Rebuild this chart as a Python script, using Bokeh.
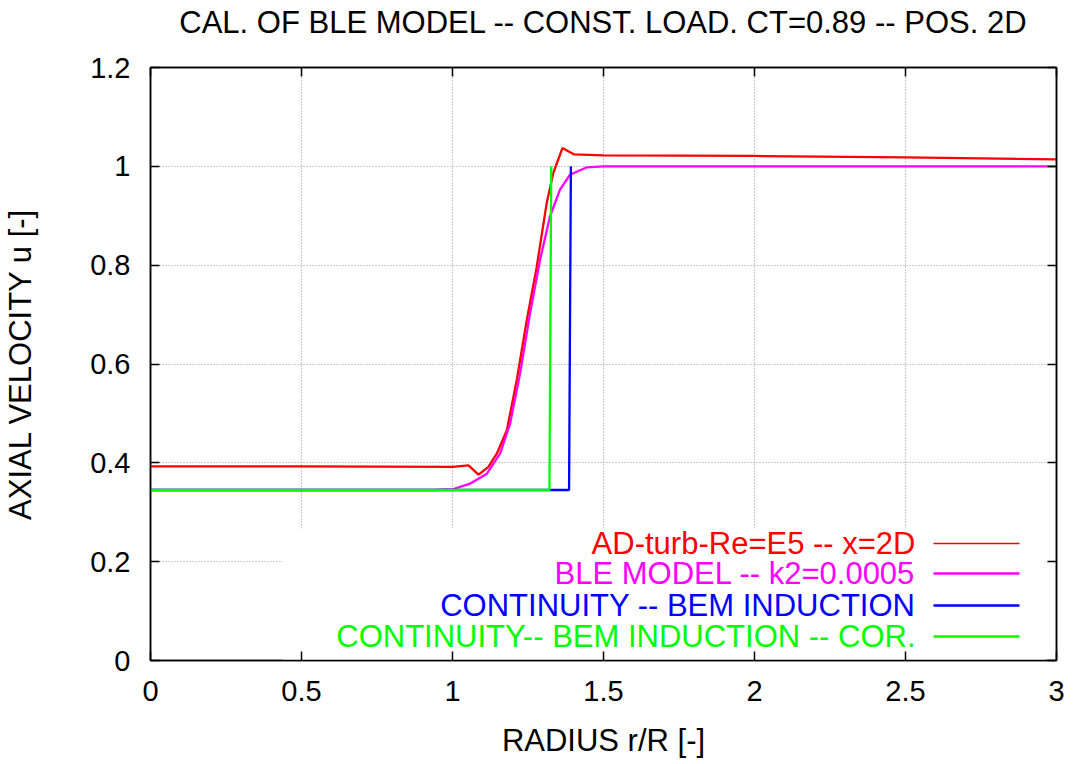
from bokeh.plotting import figure
from bokeh.models import Range1d, LinearAxis, Label, BoxAnnotation, Arrow, FixedTicker
from bokeh.embed import file_html
from bokeh.resources import INLINE

title_text = "CAL. OF BLE MODEL -- CONST. LOAD. CT=0.89 -- POS. 2D"
x_label = "RADIUS r/R [-]"
y_label = "AXIAL VELOCITY u [-]"

x_ticks = [0, 0.5, 1, 1.5, 2, 2.5, 3]
x_tick_labels = ["0", "0.5", "1", "1.5", "2", "2.5", "3"]
y_ticks = [0, 0.2, 0.4, 0.6, 0.8, 1.0, 1.2]
y_tick_labels = ["0", "0.2", "0.4", "0.6", "0.8", "1", "1.2"]

# AD-turb-Re=E5 -- x=2D
red_x = [0, 0.5, 1.0, 1.053, 1.086, 1.119, 1.147, 1.180, 1.213, 1.246, 1.279, 1.312, 1.334, 1.364, 1.403, 1.5, 2.0, 2.5, 3.0]
red_y = [0.393, 0.393, 0.392, 0.395, 0.376, 0.392, 0.419, 0.466, 0.568, 0.689, 0.797, 0.926, 0.987, 1.037, 1.024, 1.022, 1.021, 1.018, 1.014]

# BLE MODEL -- k2=0.0005
mag_x = [0, 0.936, 1.003, 1.059, 1.114, 1.158, 1.191, 1.224, 1.257, 1.290, 1.323, 1.356, 1.389, 1.445, 1.5, 3.0]
mag_y = [0.345, 0.345, 0.347, 0.358, 0.378, 0.419, 0.480, 0.581, 0.703, 0.811, 0.899, 0.953, 0.983, 0.998, 1.0, 1.0]

# CONTINUITY -- BEM INDUCTION
blue_x = [0, 1.386, 1.392]
blue_y = [0.345, 0.345, 1.0]

# CONTINUITY-- BEM INDUCTION -- COR.
green_x = [0, 1.321, 1.327]
green_y = [0.345, 0.345, 1.0]

series_names = ["AD-turb-Re=E5 -- x=2D", "BLE MODEL -- k2=0.0005",
                "CONTINUITY -- BEM INDUCTION", "CONTINUITY-- BEM INDUCTION -- COR."]
series_x = [red_x, mag_x, blue_x, green_x]
series_y = [red_y, mag_y, blue_y, green_y]
series_colors = ["#ff0000", "#ff00ff", "#0000ff", "#00ff00"]

FONT = "Liberation Sans"
# frame placed at page x 150..1056, y 67..660
FL, FT, FW, FH = 150, 67, 906, 593
MR, MB = 12, 96

p = figure(frame_width=FW, frame_height=FH, x_range=Range1d(0, 3), y_range=Range1d(0, 1.2),
           output_backend="svg", toolbar_location=None, title=None,
           min_border_left=FL, min_border_right=MR, min_border_top=FT, min_border_bottom=MB)
p.background_fill_color = "white"
p.border_fill_color = "white"
p.outline_line_color = "black"
p.outline_line_width = 1.5

for ax in (p.xaxis[0], p.yaxis[0]):
    ax.major_tick_in = 9
    ax.major_tick_out = 0
    ax.minor_tick_line_color = None
    ax.axis_line_color = "black"
    ax.axis_line_width = 1.5
    ax.major_tick_line_width = 1.5
    ax.major_label_text_font = FONT
    ax.major_label_text_font_size = "29px"
    ax.major_label_text_color = "black"
    ax.axis_label_text_font = FONT
    ax.axis_label_text_font_size = "31px"
    ax.axis_label_text_font_style = "normal"
    ax.axis_label_text_color = "black"

p.xaxis[0].ticker = FixedTicker(ticks=x_ticks)
p.xaxis[0].major_label_overrides = dict(zip(x_ticks, x_tick_labels))
p.xaxis[0].axis_label = x_label
p.xaxis[0].major_label_standoff = 20
p.xaxis[0].axis_label_standoff = 19
p.yaxis[0].ticker = FixedTicker(ticks=y_ticks)
p.yaxis[0].major_label_overrides = dict(zip(y_ticks, y_tick_labels))
p.yaxis[0].axis_label = y_label
p.yaxis[0].major_label_standoff = 20
p.yaxis[0].axis_label_standoff = 49

# mirrored axes: the top one carries the chart title as its label
top_ax = LinearAxis(ticker=FixedTicker(ticks=x_ticks), major_tick_in=9, major_tick_out=0,
                    minor_tick_line_color=None, major_label_text_font_size="0px",
                    major_label_text_color=None, axis_line_color="black", axis_line_width=1.5,
                    major_tick_line_width=1.5, major_label_standoff=0,
                    axis_label=title_text, axis_label_text_font=FONT,
                    axis_label_text_font_size="31px", axis_label_text_font_style="normal",
                    axis_label_text_color="black", axis_label_standoff=28)
p.add_layout(top_ax, "above")
right_ax = LinearAxis(ticker=FixedTicker(ticks=y_ticks), major_tick_in=9, major_tick_out=0,
                      minor_tick_line_color=None, major_label_text_font_size="0px",
                      major_label_text_color=None, axis_line_color="black", axis_line_width=1.5,
                      major_tick_line_width=1.5, major_label_standoff=0)
p.add_layout(right_ax, "right")

p.xgrid[0].ticker = FixedTicker(ticks=x_ticks)
p.ygrid[0].ticker = FixedTicker(ticks=y_ticks)
for g in (p.xgrid[0], p.ygrid[0]):
    g.grid_line_color = "#9a9a9a"
    g.grid_line_dash = "1 2"
    g.grid_line_width = 1.2
    g.level = "image"

# screen units here are relative to the frame: x from its left, y up from its bottom
def sx(page_x):
    return page_x - FL

def sy(page_y):
    return FT + FH - page_y

# opaque legend background hiding the grid
mask = BoxAnnotation(left=sx(282), right=sx(1045), top=sy(528), bottom=sy(660),
                     left_units="screen", right_units="screen", top_units="screen", bottom_units="screen",
                     fill_color="white", fill_alpha=1.0, line_color=None, level="underlay")
p.add_layout(mask)

for xs, ys, color in zip(series_x, series_y, series_colors):
    p.line(xs, ys, line_color=color, line_width=2.3)

row_y = [543, 573, 605, 636]
sample_w = [1.5, 2.5, 2.5, 2.5]
for name, color, ry, lw in zip(series_names, series_colors, row_y, sample_w):
    p.add_layout(Label(x=sx(915), y=sy(ry), x_units="screen", y_units="screen", text=name,
                       text_align="right", text_baseline="middle", text_font=FONT,
                       text_font_size="31px", text_color=color))
    p.add_layout(Arrow(x_start=sx(933), y_start=sy(ry), x_end=sx(1019), y_end=sy(ry),
                       start_units="screen", end_units="screen", start=None, end=None,
                       line_color=color, line_width=lw))

open("out.html", "w").write(file_html(p, INLINE))
